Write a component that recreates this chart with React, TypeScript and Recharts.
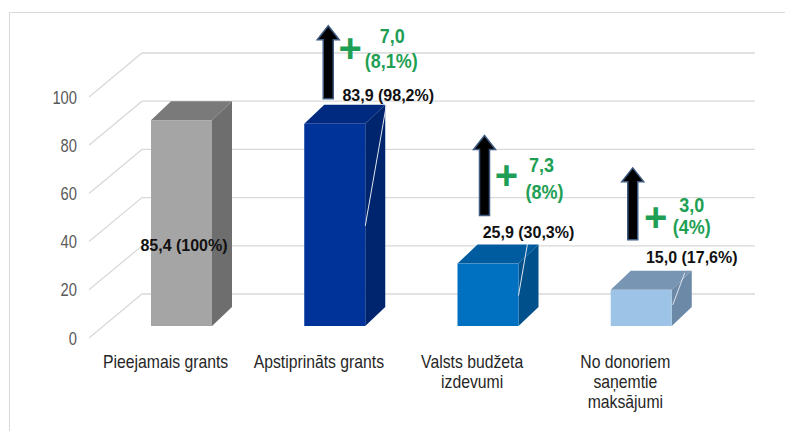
import React from 'react';
import { BarChart, Bar, XAxis, YAxis, CartesianGrid } from 'recharts';

// ---- data ----
const categories = ['Pieejamais grants', 'Apstiprināts grants', 'Valsts budžeta\nizdevumi', 'No donoriem\nsaņemtie\nmaksājumi'];
const values = [85.4, 83.9, 25.9, 15.0];
const shares = ['100%', '98,2%', '30,3%', '17,6%'];
const increases: (number | null)[] = [null, 7.0, 7.3, 3.0];
const increaseShares: (string | null)[] = [null, '8,1%', '8%', '4%'];
const yTicks = [0, 20, 40, 60, 80, 100];

const fmt = (v: number) => v.toFixed(1).replace('.', ',');

const data = categories.map((name, i) => ({ name, value: values[i] }));

// ---- styles / layout ----
const FRONT = ['#a5a5a5', '#00339a', '#0070c0', '#9dc3e6'];
const SIDE = ['#6e6e6e', '#00256f', '#00508c', '#6c89a8'];
const TOP = ['#7a7a7a', '#002a80', '#005b9f', '#7895b4'];
const GREEN = '#1f9f55';

const FACE_DX = 16, FACE_DY = -12, DEPTH_X = 20, DEPTH_Y = -19;
const GRID_DX = 53, GRID_DY = -44;

const SANS = "'Liberation Sans', Arial, sans-serif";

// label centre relative to front face top-left
const LABEL_POS = [
  { dx: 33, dy: 125 },
  { dx: 84, dy: -28 },
  { dx: 71, dy: -31 },
  { dx: 81, dy: -32 },
];
const LEADER = [
  null,
  { sx: 82, sy: -18, ex: 61, ey: 102 },
  { sx: 70, sy: -20, ex: 61, ey: 32 },
  { sx: 74, sy: -17, ex: 62, ey: 15 },
];
const ANNOT = [
  null,
  { ax: 24, bottom: -25, top: -98, px: 46, py: -76, t1x: 88, t1y: -88, t2x: 87, t2y: -63 },
  { ax: 27, bottom: -48, top: -128, px: 49, py: -89, t1x: 84, t1y: -98, t2x: 87, t2y: -71 },
  { ax: 22, bottom: -50, top: -122, px: 45, py: -73, t1x: 81, t1y: -85, t2x: 81, t2y: -63 },
];

const Arrow = ({ cx, top, bottom }: { cx: number; top: number; bottom: number }) => {
  const sw = 5, hw = 11, hh = 14;
  const pts = [
    [cx, top],
    [cx + hw, top + hh],
    [cx + sw, top + hh],
    [cx + sw, bottom],
    [cx - sw, bottom],
    [cx - sw, top + hh],
    [cx - hw, top + hh],
  ].map((p) => p.join(',')).join(' ');
  return <polygon points={pts} fill="#000" stroke="#3d5a80" strokeWidth={1.5} strokeLinejoin="miter" />;
};

const GreenText = ({ x, y, children }: { x: number; y: number; children: React.ReactNode }) => (
  <text
    transform={`translate(${x},${y}) scale(0.9,1)`}
    x={0}
    y={0}
    textAnchor="middle"
    dominantBaseline="central"
    fontFamily={SANS}
    fontWeight="bold"
    fontSize={20}
    fill={GREEN}
  >
    {children}
  </text>
);

const Bar3D = (props: any) => {
  const { x, y, width, height, index } = props;
  const fx = x + FACE_DX;
  const fy = y + FACE_DY;
  const w = width;
  const h = height;
  const lp = LABEL_POS[index];
  const ld = LEADER[index];
  const an = ANNOT[index];
  return (
    <g>
      <polygon
        points={`${fx},${fy} ${fx + DEPTH_X},${fy + DEPTH_Y} ${fx + w + DEPTH_X},${fy + DEPTH_Y} ${fx + w},${fy}`}
        fill={TOP[index]}
      />
      <polygon
        points={`${fx + w},${fy} ${fx + w + DEPTH_X},${fy + DEPTH_Y} ${fx + w + DEPTH_X},${fy + DEPTH_Y + h} ${fx + w},${fy + h}`}
        fill={SIDE[index]}
      />
      <rect x={fx} y={fy} width={w} height={h} fill={FRONT[index]} />
      {ld && (
        <line x1={fx + ld.sx} y1={fy + ld.sy} x2={fx + ld.ex} y2={fy + ld.ey} stroke="#dfe5ee" strokeWidth={1} />
      )}
      <text
        x={fx + lp.dx}
        y={fy + lp.dy}
        textAnchor="middle"
        dominantBaseline="central"
        fontFamily={SANS}
        fontWeight="bold"
        fontSize={16}
        fill="#111"
      >
        {`${fmt(values[index])} (${shares[index]})`}
      </text>
      {an && increases[index] != null && (
        <g>
          <Arrow cx={fx + an.ax} top={fy + an.top} bottom={fy + an.bottom} />
          <text
            x={fx + an.px}
            y={fy + an.py}
            textAnchor="middle"
            dominantBaseline="central"
            fontFamily={SANS}
            fontWeight="bold"
            fontSize={40}
            fill={GREEN}
          >
            +
          </text>
          <GreenText x={fx + an.t1x} y={fy + an.t1y}>{fmt(increases[index] as number)}</GreenText>
          <GreenText x={fx + an.t2x} y={fy + an.t2y}>{`(${increaseShares[index]})`}</GreenText>
        </g>
      )}
    </g>
  );
};

const XTick = (props: any) => {
  const { x, y, payload } = props;
  const lines = String(payload.value).split('\n');
  return (
    <text transform={`translate(${x},${y}) scale(0.83,1)`} x={0} y={0} textAnchor="middle" fontFamily={SANS} fontSize={19} fill="#262626">
      {lines.map((l, i) => (
        <tspan key={i} x={0} dy={i === 0 ? 22 : 20}>
          {l}
        </tspan>
      ))}
    </text>
  );
};

const YTick = (props: any) => {
  const { x, y, payload } = props;
  return (
    <text
      transform={`translate(${x},${y}) scale(0.82,1)`}
      x={0}
      y={0}
      textAnchor="end"
      dominantBaseline="central"
      fontFamily={SANS}
      fontSize={18}
      fill="#595959"
    >
      {payload.value}
    </text>
  );
};

const gridLine = (p: any) => {
  const { x1, y1, x2 } = p;
  const pts = `${x1},${y1} ${x1 + GRID_DX},${y1 + GRID_DY} ${x2 + GRID_DX},${y1 + GRID_DY}`;
  return <polyline key={p.key} points={pts} fill="none" stroke="#d9d9d9" strokeWidth={1.3} />;
};

export default function App() {
  return (
    <div style={{ position: 'absolute', left: 0, top: 0, width: 785, height: 431, overflow: 'hidden', background: '#fff' }}>
      <div
        style={{
          position: 'absolute',
          left: 9,
          top: 12,
          width: 800,
          height: 450,
          borderTop: '1px solid #d9d9d9',
          borderLeft: '1px solid #d9d9d9',
        }}
      />
      <div style={{ position: 'absolute', left: 0, top: 0 }}>
        <BarChart
          width={785}
          height={431}
          data={data}
          margin={{ top: 97, right: 83, bottom: 33, left: 29 }}
          barSize={61}
          barCategoryGap={0}
        >
          <CartesianGrid vertical={false} horizontal={gridLine} />
          <XAxis
            dataKey="name"
            interval={0}
            axisLine={false}
            tickLine={false}
            height={60}
            tick={(p: any) => <XTick {...p} />}
          />
          <YAxis
            domain={[0, 100]}
            ticks={yTicks}
            interval={0}
            axisLine={false}
            tickLine={false}
            width={60}
            tickMargin={6}
            tick={(p: any) => <YTick {...p} />}
          />
          <Bar dataKey="value" isAnimationActive={false} shape={(p: any) => <Bar3D {...p} />} />
        </BarChart>
      </div>
    </div>
  );
}
